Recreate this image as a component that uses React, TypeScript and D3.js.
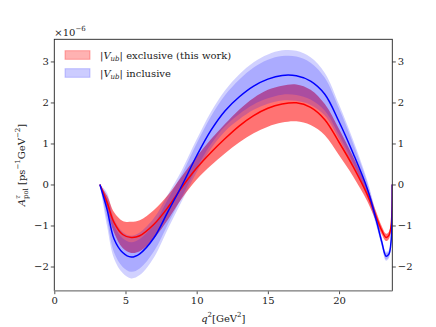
import React, { useRef, useEffect } from 'react';
import * as d3 from 'd3';

// q^2 grid (GeV^2) and curves (units of 1e-6)
const q2 = [3.2, 3.7, 4.2, 4.8, 5.4, 6, 7, 8, 9, 10, 11, 12, 13, 14, 15, 16, 17, 18, 19, 20, 21, 22, 22.6, 23.0, 23.3, 23.5, 23.65, 23.72, 23.74];

// |Vub| exclusive (this work)
const redMid = [0, -0.43, -0.93, -1.22, -1.29, -1.25, -0.97, -0.55, -0.05, 0.4, 0.78, 1.12, 1.43, 1.68, 1.86, 1.96, 1.99, 1.88, 1.58, 1.03, 0.43, -0.26, -0.78, -1.12, -1.29, -1.24, -1.02, -0.6, 0];
const redErr = [0, 0.16, 0.25, 0.33, 0.38, 0.38, 0.35, 0.3, 0.27, 0.28, 0.32, 0.36, 0.4, 0.43, 0.45, 0.45, 0.45, 0.43, 0.38, 0.32, 0.24, 0.16, 0.12, 0.1, 0.09, 0.09, 0.08, 0.05, 0];

// |Vub| inclusive
const blueMid = [0, -0.6, -1.33, -1.66, -1.77, -1.69, -1.3, -0.65, 0, 0.7, 1.32, 1.8, 2.14, 2.4, 2.57, 2.66, 2.65, 2.52, 2.2, 1.53, 0.75, -0.12, -0.85, -1.4, -1.75, -1.7, -1.4, -0.85, 0];
const blueErrIn = [0, 0.25, 0.33, 0.35, 0.36, 0.36, 0.33, 0.3, 0.28, 0.3, 0.34, 0.38, 0.42, 0.45, 0.47, 0.47, 0.47, 0.45, 0.4, 0.32, 0.24, 0.15, 0.1, 0.08, 0.08, 0.07, 0.06, 0.04, 0];
const blueErrOut = [0, 0.4, 0.48, 0.5, 0.52, 0.52, 0.48, 0.42, 0.38, 0.4, 0.45, 0.5, 0.55, 0.58, 0.6, 0.61, 0.61, 0.58, 0.52, 0.42, 0.32, 0.2, 0.14, 0.11, 0.11, 0.1, 0.08, 0.05, 0];

const xTicks = [0, 5, 10, 15, 20];
const yTicks = [-2, -1, 0, 1, 2, 3];

const App = () => {
  const svgRef = useRef<SVGSVGElement>(null);
  const width = 436;
  const height = 327;
  const m = { left: 54.3, right: 392.3, top: 39.3, bottom: 290.7 };
  const font = 'DejaVu Serif';

  useEffect(() => {
    const svg = d3.select(svgRef.current);
    svg.selectAll('*').remove();

    const x = d3.scaleLinear().domain([0, 23.74]).range([m.left, m.right]);
    const y = d3.scaleLinear().domain([-2.59, 3.54]).range([m.bottom, m.top]);

    svg.append('defs').append('clipPath').attr('id', 'plotclip')
      .append('rect')
      .attr('x', m.left).attr('y', m.top)
      .attr('width', m.right - m.left).attr('height', m.bottom - m.top);

    const pts = q2.map((q, i) => i);
    const curve = d3.curveCatmullRom.alpha(0.5);
    const band = (mid: number[], err: number[]) => d3.area<number>()
      .curve(curve)
      .x(i => x(q2[i]))
      .y0(i => y(mid[i] - err[i]))
      .y1(i => y(mid[i] + err[i]))(pts);
    const line = (mid: number[]) => d3.line<number>()
      .curve(curve)
      .x(i => x(q2[i]))
      .y(i => y(mid[i]))(pts);

    const g = svg.append('g').attr('clip-path', 'url(#plotclip)');

    // bands
    g.append('path').attr('d', band(redMid, redErr)).attr('fill', '#ff0000').attr('fill-opacity', 0.55);
    g.append('path').attr('d', band(blueMid, blueErrOut)).attr('fill', '#0000ff').attr('fill-opacity', 0.18);
    g.append('path').attr('d', band(blueMid, blueErrIn)).attr('fill', '#0000ff').attr('fill-opacity', 0.18);

    // central lines
    g.append('path').attr('d', line(redMid)).attr('fill', 'none').attr('stroke', '#ff0000').attr('stroke-width', 1.5);
    g.append('path').attr('d', line(blueMid)).attr('fill', 'none').attr('stroke', '#0000ff').attr('stroke-width', 1.5);

    // axes
    const styleAxis = (sel: any) => {
      sel.select('.domain').remove();
      sel.selectAll('.tick line').attr('stroke', '#222').attr('stroke-width', 0.8);
      sel.selectAll('.tick text').attr('font-family', font).attr('font-size', 10).attr('fill', '#222');
    };

    svg.append('g').attr('transform', `translate(${m.left},0)`)
      .call(d3.axisLeft(y).tickValues(yTicks).tickSize(3.5).tickPadding(2).tickFormat(d3.format('d')))
      .call(styleAxis);
    svg.append('g').attr('transform', `translate(${m.right},0)`)
      .call(d3.axisRight(y).tickValues(yTicks).tickSize(3.5).tickPadding(2).tickFormat(d3.format('d')))
      .call(styleAxis);
    svg.append('g').attr('transform', `translate(0,${m.bottom})`)
      .call(d3.axisBottom(x).tickValues(xTicks).tickSize(3.5).tickPadding(2.5).tickFormat(d3.format('d')))
      .call(styleAxis);

    // spines
    svg.append('rect')
      .attr('x', m.left).attr('y', m.top)
      .attr('width', m.right - m.left).attr('height', m.bottom - m.top)
      .attr('fill', 'none').attr('stroke', '#222').attr('stroke-width', 0.9);
    svg.append('line')
      .attr('x1', m.left).attr('x2', m.right).attr('y1', m.bottom).attr('y2', m.bottom)
      .attr('stroke', '#999').attr('stroke-width', 1.6);

    // offset text
    const off = svg.append('text').attr('x', m.left).attr('y', 36)
      .attr('font-family', font).attr('font-size', 10).attr('fill', '#222');
    off.append('tspan').text('×10');
    off.append('tspan').attr('dy', -5).attr('font-size', 7).text('−6');

    // legend
    const legend = [
      { color: '#ff0000', op: 0.3, label: 'exclusive (this work)' },
      { color: '#0000ff', op: 0.2, label: 'inclusive' },
    ];
    legend.forEach((d, i) => {
      const yy = 55 + i * 18;
      svg.append('rect').attr('x', 65).attr('y', yy - 4.3).attr('width', 25).attr('height', 8.6)
        .attr('fill', d.color).attr('fill-opacity', d.op)
        .attr('stroke', d.color).attr('stroke-opacity', d.op);
      const t = svg.append('text').attr('x', 100).attr('y', yy + 4)
        .attr('font-family', font).attr('font-size', 10).attr('fill', '#222');
      t.append('tspan').text('|');
      t.append('tspan').attr('font-style', 'italic').text('V');
      t.append('tspan').attr('font-style', 'italic').attr('font-size', 7).attr('dy', 2).text('ub');
      t.append('tspan').attr('dy', -2).text('| ' + d.label);
    });

    // x label
    const xl = svg.append('text').attr('x', (m.left + m.right) / 2).attr('y', 322)
      .attr('text-anchor', 'middle').attr('font-family', font).attr('font-size', 10).attr('fill', '#222');
    xl.append('tspan').attr('font-style', 'italic').text('q');
    xl.append('tspan').attr('font-size', 7).attr('dy', -5).text('2');
    xl.append('tspan').attr('dy', 5).text('[GeV');
    xl.append('tspan').attr('font-size', 7).attr('dy', -5).text('2');
    xl.append('tspan').attr('dy', 5).text(']');

    // y label
    const yl = svg.append('text')
      .attr('transform', `translate(25,${(m.top + m.bottom) / 2}) rotate(-90)`)
      .attr('text-anchor', 'middle').attr('font-family', font).attr('font-size', 10).attr('fill', '#222');
    yl.append('tspan').attr('font-style', 'italic').text('A');
    yl.append('tspan').attr('font-style', 'italic').attr('font-size', 7).attr('dy', -5).text('τ');
    yl.append('tspan').attr('font-size', 7).attr('dx', -4).attr('dy', 8).text('pol');
    yl.append('tspan').attr('dy', -3).text(' [ps');
    yl.append('tspan').attr('font-size', 7).attr('dy', -5).text('−1');
    yl.append('tspan').attr('dy', 5).text('GeV');
    yl.append('tspan').attr('font-size', 7).attr('dy', -5).text('−2');
    yl.append('tspan').attr('dy', 5).text(']');
  }, []);

  return (
    <svg ref={svgRef} width={width} height={height}
      style={{ position: 'absolute', left: 0, top: 0, background: '#fff' }} />
  );
};

export default App;
